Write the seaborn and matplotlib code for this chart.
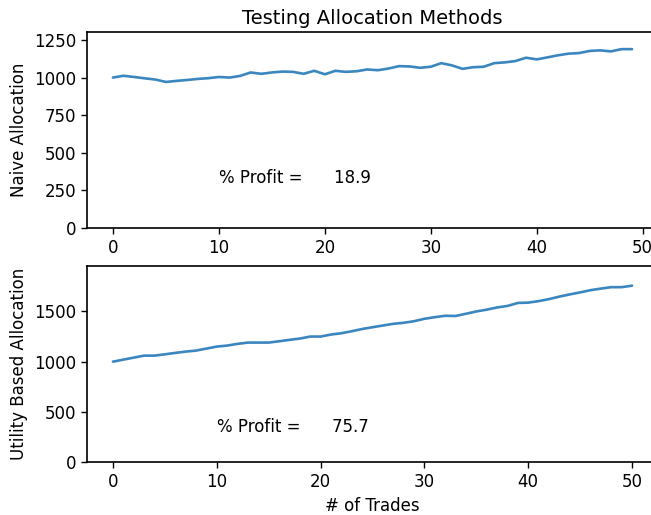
import matplotlib
matplotlib.use("Agg")
import matplotlib.pyplot as plt
import seaborn as sns
import pandas as pd

# naive allocation, trades 0..49
naive = [1000, 1012, 1004, 995, 987, 971, 978, 984, 991, 996,
         1004, 1000, 1011, 1034, 1025, 1034, 1040, 1038, 1025, 1045,
         1022, 1045, 1038, 1042, 1054, 1049, 1060, 1076, 1074, 1065,
         1072, 1096, 1081, 1058, 1069, 1072, 1096, 1101, 1110, 1132,
         1121, 1134, 1148, 1159, 1163, 1177, 1181, 1174, 1189, 1189]

# utility based allocation, trades 0..50
utility = [1000, 1020, 1040, 1060, 1060, 1073, 1087, 1100, 1110, 1130,
           1150, 1160, 1177, 1190, 1190, 1190, 1203, 1217, 1230, 1250,
           1250, 1270, 1283, 1303, 1325, 1343, 1360, 1377, 1387, 1403,
           1427, 1443, 1457, 1455, 1477, 1500, 1518, 1540, 1555, 1585,
           1588, 1603, 1623, 1648, 1670, 1690, 1712, 1728, 1742, 1742,
           1757]

naive_profit = 18.9
utility_profit = 75.7

df_naive = pd.DataFrame({"trade": range(len(naive)), "value": naive})
df_util = pd.DataFrame({"trade": range(len(utility)), "value": utility})

sns.set_style("ticks")
plt.rcParams["font.family"] = ["DejaVu Sans"]
plt.rcParams["axes.edgecolor"] = "black"
plt.rcParams["xtick.color"] = "black"
plt.rcParams["ytick.color"] = "black"
plt.rcParams["text.color"] = "black"
plt.rcParams["axes.labelcolor"] = "black"

fig = plt.figure(figsize=(6.51, 5.15), dpi=100)
W, H = 651, 515
ax1 = fig.add_axes([87 / W, (H - 228) / H, 571 / W, 196 / H])
ax2 = fig.add_axes([87 / W, (H - 462) / H, 571 / W, 196 / H])

line_color = "#3a87c0"

sns.lineplot(data=df_naive, x="trade", y="value", ax=ax1, color=line_color, linewidth=1.9)
ax1.set_ylim(0, 1303)
ax1.set_xlabel("")
ax1.set_ylabel("Naive Allocation", fontsize=12)
ax1.set_title("Testing Allocation Methods", fontsize=14)
ax1.set_yticks([0, 250, 500, 750, 1000, 1250])
ax1.text(10, 300, "% Profit =      " + str(naive_profit), fontsize=12)

sns.lineplot(data=df_util, x="trade", y="value", ax=ax2, color=line_color, linewidth=1.9)
ax2.set_ylim(0, 1953)
ax2.set_xlabel("# of Trades", fontsize=12)
ax2.set_ylabel("Utility Based Allocation", fontsize=12)
ax2.set_yticks([0, 500, 1000, 1500])
ax2.text(10, 300, "% Profit =      " + str(utility_profit), fontsize=12)

for ax in (ax1, ax2):
    ax.tick_params(labelsize=12, length=4.5, width=1)
    for s in ax.spines.values():
        s.set_linewidth(1.2)

fig.savefig("out.png", dpi=100)
